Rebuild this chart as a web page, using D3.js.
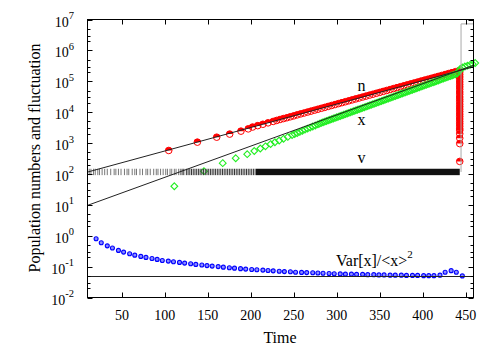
<!DOCTYPE html>
<html>
<head>
<meta charset="utf-8">
<script src="https://cdn.jsdelivr.net/npm/d3@7"></script>
<style>
  body { margin: 0; background: #fff; }
  svg { display: block; font-family: "Liberation Serif", "Times New Roman", serif; }
</style>
</head>
<body>
<div id="chart"></div>
<script>
// population n (red circles)
const nTimes = [104.5, 137.8, 160.3, 175.4, 188.5, 197, 202, 208, 214, 220, 226,
  230, 234, 238, 242, 246, 250, 254, 258, 262, 266, 270, 274, 278, 282, 286, 290,
  294, 298, 302, 306, 310, 314, 318, 322, 326, 330, 334, 338, 342, 346, 350, 354,
  358, 362, 366, 370, 374, 378, 382, 386, 390, 394, 398, 402, 406, 410, 414, 418,
  422, 426, 430, 434, 438, 442];
const nValues = [575, 1070, 1550, 1950, 2430, 2880, 3300, 3660, 4060, 4510, 5010,
  5400, 5800, 6200, 6600, 7100, 7600, 8200, 8800, 9400, 10100, 10800, 11600, 12450,
  13350, 14300, 15350, 16500, 17650, 18950, 20300, 21800, 23350, 25050, 26850, 28800,
  30900, 33150, 35550, 38100, 40900, 43800, 47000, 50400, 54050, 58000, 62200, 66700,
  71500, 76700, 82250, 88200, 94600, 101500, 108800, 116700, 125100, 134200, 143900,
  154300, 165500, 177500, 190400, 204200, 219000];
// the drop of n at the last time
const nDropTime = 443;
const nDropValues = [200000, 166000, 138000, 115000, 95000, 79000, 66000, 55000,
  45000, 38000, 31000, 26000, 22000, 18000, 15000, 12500, 10400, 8600, 7200, 6000,
  5000, 4200, 3500, 2900, 2570, 2000, 1440, 960, 254];

// x (green diamonds)
const xTimes = [111, 145.5, 167.3, 182.4, 195.8, 204, 211, 217, 223, 228, 233, 238,
  243, 248, 251, 254, 257, 260, 263, 266, 269, 272, 275, 278, 280,
  282, 284, 286, 288, 290, 292, 294, 296, 298, 300, 302, 304, 306, 308, 310, 312,
  314, 316, 318, 320, 322, 324, 326, 328, 330, 332, 334, 336, 338, 340, 342, 344,
  346, 348, 350, 352, 354, 356, 358, 360, 362, 364, 366, 368, 370, 372, 374, 376,
  378, 380, 382, 384, 386, 388, 390, 392, 394, 396, 398, 400, 402, 404, 406, 408,
  410, 412, 414, 416, 418, 420, 422, 424, 426, 428, 430, 432, 434, 436, 438, 440,
  443, 443.5, 446, 449, 452, 455, 458, 461];
const xValues = [40, 123, 224, 323, 436, 553, 667, 785, 925, 1062, 1208, 1371, 1578,
  1811, 1960, 2120, 2290, 2512, 2720, 2940, 3170, 3436, 3710, 4010, 4236,
  4490, 4700, 4930, 5160, 5410, 5660, 5930, 6220, 6510, 6820, 7150, 7490, 7850, 8220,
  8610, 9020, 9450, 9900, 10370, 10870, 11390, 11930, 12500, 13090, 13720, 14370,
  15060, 15770, 16520, 17310, 18140, 19000, 19910, 20860, 21850, 22890, 23990, 25130,
  26330, 27580, 28900, 30270, 31720, 33220, 34810, 36460, 38200, 40020, 41930, 43920,
  46020, 48210, 50510, 52920, 55440, 58080, 60850, 63750, 66790, 69970, 73310, 76800,
  80460, 84300, 88320, 92500, 96910, 101500, 106300, 111500, 116800, 122300, 128200,
  134300, 140700, 147400, 154400, 161800, 169500, 177500,
  220000, 250000, 280000, 300000, 320000, 340000, 360000, 390000];

// v (vertical marks), sparse early times, then a dense run
const vLevel = 116;
const vTimes = [12, 14, 17, 19, 22, 24, 27, 30, 33, 37, 41, 43, 46, 49, 53, 56, 58,
  62, 65, 67, 71, 74, 78, 80, 83, 87, 90, 92, 95, 98, 101, 103, 106, 108, 111, 113,
  116, 118, 120, 122, 125, 127, 129, 131, 133, 135, 137, 139, 141, 143, 145, 147,
  149, 151, 153, 155, 157, 159, 161, 163, 165, 167, 169, 171, 173, 175, 177, 179,
  181, 183, 185, 187, 189, 191, 193, 195, 197, 199, 201, 203, 205];
const vDense = [206, 443];

// Var[x]/<x>^2 (blue circles)
const varTimes = [20, 26, 33, 39, 46, 52, 59, 65, 72, 78, 85, 91, 97, 104, 110, 117,
  123, 130, 136, 143, 149, 155, 162, 168, 175, 181, 188, 194, 201, 207, 214, 220,
  226, 233, 239, 246, 252, 259, 265, 272, 278, 284, 291, 297, 304, 310, 317, 323,
  330, 336, 343, 349, 355, 362, 368, 375, 381, 388, 394, 401, 407, 413, 420, 426,
  433, 439, 446];
const varValues = [0.80, 0.59, 0.47, 0.40, 0.335, 0.295, 0.26, 0.235, 0.214, 0.199,
  0.184, 0.171, 0.158, 0.151, 0.144, 0.137, 0.130, 0.124, 0.118, 0.113, 0.108, 0.104,
  0.100, 0.096, 0.092, 0.089, 0.086, 0.083, 0.081, 0.079, 0.077, 0.075, 0.073, 0.071,
  0.069, 0.068, 0.066, 0.065, 0.064, 0.063, 0.062, 0.061, 0.060, 0.059, 0.058, 0.057,
  0.057, 0.056, 0.056, 0.055, 0.055, 0.054, 0.054, 0.053, 0.053, 0.053, 0.052, 0.052,
  0.052, 0.051, 0.051, 0.051, 0.053, 0.066, 0.074, 0.066, 0.050];
const varLevel = 0.05;

// exponential fits (end points)
const nFitTimes = [10, 459];
const nFitValues = [115, 295000];
const xFitTimes = [10, 459];
const xFitValues = [9.6, 330000];

// thin grey box at the end of the run
const boxTime = 444.5;
const boxTop = 7.2e6;

const xTicks = [50, 100, 150, 200, 250, 300, 350, 400, 450];
const yDecades = [-2, -1, 0, 1, 2, 3, 4, 5, 6, 7];
const yMinorSteps = [2, 3, 5];

const width = 498, height = 349;
const plot = { left: 87.5, right: 473.5, top: 19.5, bottom: 297.5 };

const svg = d3.select("#chart").append("svg")
  .attr("width", width).attr("height", height);

const x = d3.scaleLinear().domain([10, 459]).range([plot.left, plot.right]);
const y = d3.scaleLog().domain([1e-2, 1e7]).range([plot.bottom, plot.top]);

// n points: open circle with the upper half filled
const r = 3.3;
const halfTop = `M${-r},0A${r},${r} 0 0 1 ${r},0Z`;
const nPoints = nTimes.map((t, i) => [t, nValues[i]])
  .concat(nDropValues.map(v => [nDropTime, v]));

const nG = svg.append("g");
nPoints.forEach(([t, v]) => {
  const g = nG.append("g").attr("transform", `translate(${x(t)},${y(v)})`);
  g.append("path").attr("d", halfTop).attr("fill", "#ff0000");
  g.append("circle").attr("r", r).attr("fill", "none")
    .attr("stroke", "#ff0000").attr("stroke-width", 1);
});

// x points: open diamonds
const d = 3.4;
svg.append("g").selectAll("path")
  .data(xTimes.map((t, i) => [t, xValues[i]]))
  .join("path")
  .attr("d", ([t, v]) => `M${x(t)},${y(v) - d}L${x(t) + d},${y(v)}L${x(t)},${y(v) + d}L${x(t) - d},${y(v)}Z`)
  .attr("fill", "none")
  .attr("stroke", "#22ee22")
  .attr("stroke-width", 1.1);

// v marks
const vY = y(vLevel);
svg.append("g").selectAll("line")
  .data(vTimes)
  .join("line")
  .attr("x1", t => x(t)).attr("x2", t => x(t))
  .attr("y1", vY - 3.2).attr("y2", vY + 3.2)
  .attr("stroke", t => t < 120 ? "#777" : "#333")
  .attr("stroke-width", 1);
svg.append("rect")
  .attr("x", x(vDense[0]))
  .attr("y", vY - 3.2)
  .attr("width", x(vDense[1]) - x(vDense[0]))
  .attr("height", 6.4)
  .attr("fill", "#111");

// grey box
svg.append("path")
  .attr("d", `M${x(boxTime)},${vY}V${y(boxTop)}H${plot.right}`)
  .attr("fill", "none").attr("stroke", "#aaa").attr("stroke-width", 1);

// Var[x]/<x>^2 points
svg.append("g").selectAll("circle")
  .data(varTimes.map((t, i) => [t, varValues[i]]))
  .join("circle")
  .attr("cx", ([t]) => x(t)).attr("cy", ([, v]) => y(v))
  .attr("r", 2)
  .attr("fill", "#8c8cff")
  .attr("stroke", "#0000ff")
  .attr("stroke-width", 1.1);

// fit lines
const line = d3.line().x(p => x(p[0])).y(p => y(p[1]));
svg.append("path")
  .attr("d", line(nFitTimes.map((t, i) => [t, nFitValues[i]])))
  .attr("fill", "none").attr("stroke", "#222").attr("stroke-width", 1);
svg.append("path")
  .attr("d", line(xFitTimes.map((t, i) => [t, xFitValues[i]])))
  .attr("fill", "none").attr("stroke", "#222").attr("stroke-width", 1);
svg.append("line")
  .attr("x1", plot.left).attr("x2", plot.right)
  .attr("y1", Math.round(y(varLevel)) + 0.5).attr("y2", Math.round(y(varLevel)) + 0.5)
  .attr("stroke", "#222").attr("stroke-width", 1);

// frame and ticks (mirrored on all sides, pointing inward)
const axes = svg.append("g").attr("stroke", "#000").attr("stroke-width", 1);
axes.append("rect")
  .attr("x", plot.left).attr("y", plot.top)
  .attr("width", plot.right - plot.left).attr("height", plot.bottom - plot.top)
  .attr("fill", "none");

xTicks.forEach(t => {
  const px = Math.round(x(t)) + 0.5;
  axes.append("line").attr("x1", px).attr("x2", px)
    .attr("y1", plot.bottom).attr("y2", plot.bottom - 5);
  axes.append("line").attr("x1", px).attr("x2", px)
    .attr("y1", plot.top).attr("y2", plot.top + 5);
});

yDecades.forEach(k => {
  const py = Math.round(y(Math.pow(10, k))) + 0.5;
  axes.append("line").attr("x1", plot.left).attr("x2", plot.left + 5).attr("y1", py).attr("y2", py);
  axes.append("line").attr("x1", plot.right).attr("x2", plot.right - 5).attr("y1", py).attr("y2", py);
  if (k < 7) {
    yMinorSteps.forEach(m => {
      const my = Math.round(y(m * Math.pow(10, k))) + 0.5;
      axes.append("line").attr("x1", plot.left).attr("x2", plot.left + 3).attr("y1", my).attr("y2", my);
      axes.append("line").attr("x1", plot.right).attr("x2", plot.right - 3).attr("y1", my).attr("y2", my);
    });
  }
});

// tick labels
svg.append("g").selectAll("text")
  .data(xTicks)
  .join("text")
  .attr("x", t => x(t)).attr("y", 320)
  .attr("text-anchor", "middle")
  .attr("font-size", 14)
  .text(t => t);

yDecades.forEach(k => {
  const txt = svg.append("text")
    .attr("x", plot.left - 13.5)
    .attr("y", y(Math.pow(10, k)) + 7)
    .attr("text-anchor", "end")
    .attr("font-size", 14);
  txt.append("tspan").text("10");
  txt.append("tspan").attr("dy", -7.5).attr("font-size", 10.5).text(k);
});

// axis titles
svg.append("text")
  .attr("x", 280).attr("y", 343)
  .attr("text-anchor", "middle").attr("font-size", 16)
  .text("Time");
svg.append("text")
  .attr("transform", "translate(40,158) rotate(-90)")
  .attr("text-anchor", "middle").attr("font-size", 16)
  .text("Population numbers and fluctuation");

// series labels
const labels = [
  { t: 328.7, txt: "n", y: 90.5 },
  { t: 328.7, txt: "x", y: 124.5 },
  { t: 328.7, txt: "v", y: 163 }
];
labels.forEach(l => {
  svg.append("text").attr("x", x(l.t)).attr("y", l.y)
    .attr("text-anchor", "middle").attr("font-size", 16).text(l.txt);
});
const varLabel = svg.append("text").attr("x", 336).attr("y", 265.5).attr("font-size", 16);
varLabel.append("tspan").text("Var[x]/<x>");
varLabel.append("tspan").attr("dy", -8).attr("font-size", 11).text("2");
</script>
</body>
</html>
